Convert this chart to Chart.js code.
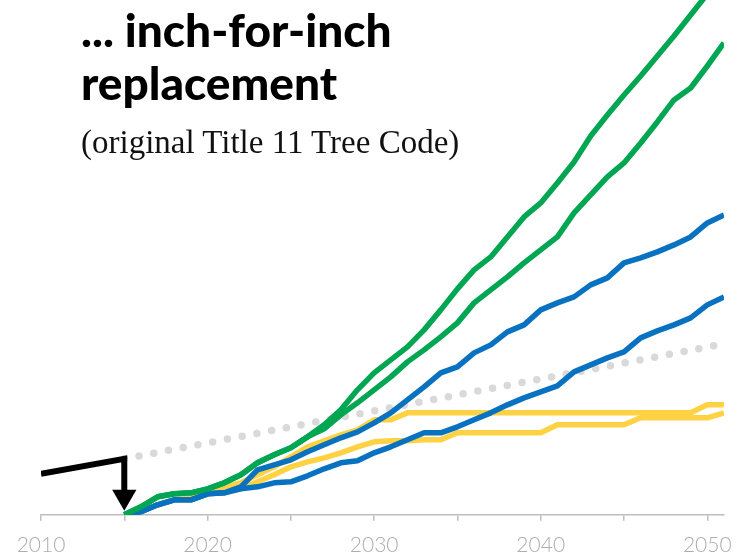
<!DOCTYPE html>
<html>
<head>
<meta charset="utf-8">
<script src="https://cdn.jsdelivr.net/npm/chart.js@4"></script>
<style>
    html, body { margin: 0; padding: 0; background: #fff; overflow: hidden; }
    #wrap { position: relative; width: 740px; height: 557px; overflow: hidden; }
    /* canvas is shifted up so the plot area starts at the top edge of the page */
    canvas { display: block; margin-top: -14px; }
    #title {
        position: absolute; left: 81px; top: 3px;
        font-family: Lato, sans-serif; font-weight: 900;
        font-size: 46px; line-height: 53px; color: #000;
    }
    #subtitle {
        position: absolute; left: 81px; top: 122px;
        font-family: "Liberation Serif", serif;
        font-size: 33px; line-height: 40px; color: #111;
    }
</style>
</head>
<body>
<div id="wrap">
    <canvas id="chart" width="744" height="584"></canvas>
    <div id="title">... inch-for-inch<br>replacement</div>
    <div id="subtitle">(original Title 11 Tree Code)</div>
</div>
<script>
const years = [2015, 2016, 2017, 2018, 2019, 2020, 2021, 2022, 2023, 2024, 2025, 2026, 2027,
    2028, 2029, 2030, 2031, 2032, 2033, 2034, 2035, 2036, 2037, 2038, 2039, 2040,
    2041, 2042, 2043, 2044, 2045, 2046, 2047, 2048, 2049, 2050, 2051];

const greenHigh = [0, 8, 18, 21, 22, 26, 32, 40, 52, 60, 67, 78, 90, 105, 125, 142, 155, 168, 185,
    205, 226, 245, 258, 278, 298, 312, 332, 353, 379, 400, 420, 439, 459, 479, 500, 521, 541];
const greenLow = [0, 8, 18, 21, 22, 26, 32, 40, 52, 60, 67, 78, 86, 100, 112, 125, 138, 153, 165,
    178, 192, 212, 225, 238, 252, 265, 278, 302, 320, 338, 352, 372, 393, 415, 427, 449, 472];
const blueHigh = [0, 3, 10, 15, 15, 21, 22, 28, 45, 50, 55, 63, 70, 77, 83, 92, 102, 115, 128,
    142, 148, 162, 170, 183, 190, 205, 212, 218, 230, 237, 252, 257, 263, 270, 278, 292, 300];
const blueLow = [0, 3, 10, 15, 15, 21, 22, 26, 28, 32, 33, 39, 46, 52, 54, 62, 68, 75, 82,
    82, 88, 95, 102, 110, 117, 123, 129, 143, 150, 157, 163, 177, 184, 190, 197, 210, 218];
const yellowHigh = [0, 3, 10, 15, 17, 22, 28, 32, 40, 48, 58, 68, 74, 80, 85, 95, 95, 102, 102,
    102, 102, 102, 102, 102, 102, 102, 102, 102, 102, 102, 102, 102, 102, 102, 102, 110, 110];
const yellowLow = [0, 3, 10, 15, 15, 21, 22, 26, 33, 40, 48, 53, 57, 62, 68, 73, 74, 74, 75,
    75, 82, 82, 82, 82, 82, 82, 90, 90, 90, 90, 90, 97, 97, 97, 97, 97, 102];

// straight trend (dotted) and the black "before" line with arrow
const trendYears = [2015, 2051];
const trendValues = [56, 171];
const pastYears = [2010, 2015, 2015];
const pastValues = [41, 56, 18];

const tickLabels = ['2010', '2020', '2030', '2040', '2050'];

function pts(xs, ys) {
    return xs.map((x, i) => ({ x: x, y: ys[i] }));
}

function series(values, color) {
    return {
        data: pts(years, values),
        borderColor: color,
        borderWidth: 5.5,
        pointRadius: 0,
        tension: 0,
        fill: false,
        borderJoinStyle: 'round'
    };
}

const ctx = document.getElementById("chart").getContext("2d");

new Chart(ctx, {
    type: "line",
    data: {
        datasets: [
            {
                data: pts(pastYears, pastValues),
                borderColor: '#000',
                backgroundColor: '#000',
                borderWidth: 6,
                borderJoinStyle: 'miter',
                pointRadius: [0, 0, 14],
                pointStyle: 'triangle',
                rotation: 180,
                pointBorderWidth: 0,
                pointBackgroundColor: '#000'
            },
            series(greenHigh, '#00a651'),
            series(greenLow, '#00a651'),
            series(blueHigh, '#0872c0'),
            series(blueLow, '#0872c0'),
            series(yellowHigh, '#ffd243'),
            series(yellowLow, '#ffd243'),
            {
                data: pts(trendYears, trendValues),
                borderColor: '#d9d9d9',
                borderWidth: 7.5,
                borderDash: [0, 15],
                borderCapStyle: 'round',
                pointRadius: 0
            }
        ]
    },
    options: {
        responsive: false,
        animation: false,
        layout: {
            padding: { left: 41, right: 12, top: 0, bottom: 0 }
        },
        plugins: {
            legend: { display: false },
            tooltip: { enabled: false },
            title: { display: false }
        },
        scales: {
            x: {
                type: 'linear',
                min: 2010,
                max: 2051,
                grid: {
                    drawOnChartArea: false,
                    drawTicks: true,
                    tickLength: 6,
                    color: '#bdbdbd',
                    lineWidth: 1.5
                },
                border: { display: true, color: '#bdbdbd', width: 1.5 },
                ticks: {
                    stepSize: 5,
                    includeBounds: false,
                    autoSkip: false,
                    maxRotation: 0,
                    padding: 12,
                    color: '#adadad',
                    font: { family: 'Lato', size: 21, weight: '300' },
                    callback: function (v) {
                        const s = String(v);
                        return tickLabels.includes(s) ? s : '';
                    }
                }
            },
            y: {
                display: false,
                min: 0,
                max: 515
            }
        }
    }
});
</script>
</body>
</html>
